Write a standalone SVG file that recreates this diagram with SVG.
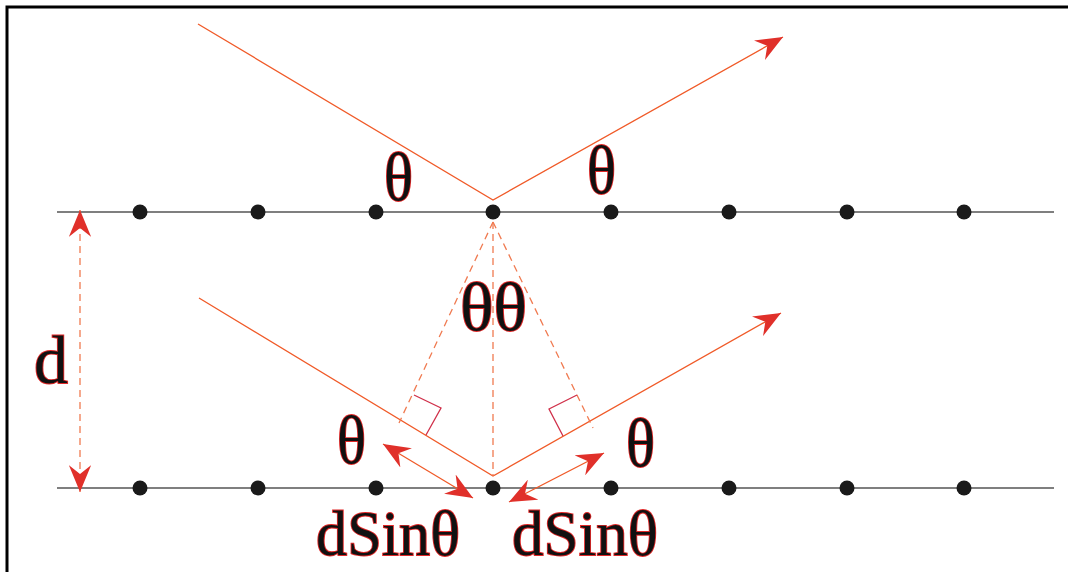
<svg xmlns="http://www.w3.org/2000/svg" width="1068" height="572" viewBox="0 0 1068 572">
<style>
.frame{stroke:#000;stroke-width:3;fill:none}
.plane{stroke:#555;stroke-width:1.5;fill:none}
.atom{fill:#1a1a1a}
.ray{stroke:#f05a28;stroke-width:1.3;fill:none}
.dash{stroke:#f07a50;stroke-width:1.3;fill:none;stroke-dasharray:7 5}
.sq{stroke:#d0304a;stroke-width:1.3;fill:none}
.lbl{font-family:"Liberation Serif","DejaVu Serif",serif;fill:#111;stroke:#e02828;stroke-width:1.8;paint-order:stroke}
</style>
<defs>
<marker id="ah" viewBox="0 0 12 10" refX="12" refY="5" markerWidth="27" markerHeight="22.5" markerUnits="userSpaceOnUse" orient="auto-start-reverse">
<path d="M0,0 L12,5 L0,10 L4,5 z" fill="#e0302a"/>
</marker>
</defs>
<g id="frame">
<path class="frame" d="M7,572 L7,7 L1068,7"/>
</g>
<g id="planes">
<line class="plane" x1="57" y1="212" x2="1054" y2="212"/>
<line class="plane" x1="57" y1="488" x2="1054" y2="488"/>
</g>
<g id="atoms">
<circle class="atom" cx="140" cy="212" r="7.5"/>
<circle class="atom" cx="258" cy="212" r="7.5"/>
<circle class="atom" cx="376" cy="212" r="7.5"/>
<circle class="atom" cx="493" cy="212" r="7.5"/>
<circle class="atom" cx="611" cy="212" r="7.5"/>
<circle class="atom" cx="729" cy="212" r="7.5"/>
<circle class="atom" cx="847" cy="212" r="7.5"/>
<circle class="atom" cx="964" cy="212" r="7.5"/>
<circle class="atom" cx="140" cy="488" r="7.5"/>
<circle class="atom" cx="258" cy="488" r="7.5"/>
<circle class="atom" cx="376" cy="488" r="7.5"/>
<circle class="atom" cx="493" cy="488" r="7.5"/>
<circle class="atom" cx="611" cy="488" r="7.5"/>
<circle class="atom" cx="729" cy="488" r="7.5"/>
<circle class="atom" cx="847" cy="488" r="7.5"/>
<circle class="atom" cx="964" cy="488" r="7.5"/>
</g>
<g id="connectors">
<polyline class="ray" points="198,24 493,200 783,37" marker-end="url(#ah)"/>
<polyline class="ray" points="199,298 493,476 781,313" marker-end="url(#ah)"/>
<line class="dash" x1="493" y1="222" x2="399" y2="423"/>
<line class="dash" x1="493" y1="222" x2="493" y2="476"/>
<line class="dash" x1="493" y1="222" x2="593" y2="428"/>
<polyline class="sq" points="414,395 441,408 426,435"/>
<polyline class="sq" points="563,436 549,409 577,395"/>
<line class="ray" x1="383" y1="444" x2="473" y2="498" marker-start="url(#ah)" marker-end="url(#ah)"/>
<line class="ray" x1="509" y1="502" x2="604" y2="453" marker-start="url(#ah)" marker-end="url(#ah)"/>
<line class="dash" x1="80" y1="210" x2="80" y2="492" marker-start="url(#ah)" marker-end="url(#ah)"/>
</g>
<g id="labels">
<text class="lbl" x="384" y="200" font-size="68" textLength="29" lengthAdjust="spacingAndGlyphs">θ</text>
<text class="lbl" x="587" y="193" font-size="68" textLength="29" lengthAdjust="spacingAndGlyphs">θ</text>
<text class="lbl" x="460" y="330" font-size="68" textLength="67" lengthAdjust="spacingAndGlyphs">θθ</text>
<text class="lbl" x="337" y="463" font-size="68" textLength="29" lengthAdjust="spacingAndGlyphs">θ</text>
<text class="lbl" x="626" y="466" font-size="68" textLength="29" lengthAdjust="spacingAndGlyphs">θ</text>
<text class="lbl" x="34" y="383" font-size="68" textLength="34" lengthAdjust="spacingAndGlyphs">d</text>
<text class="lbl" x="316" y="555" font-size="64" textLength="144" lengthAdjust="spacingAndGlyphs">dSinθ</text>
<text class="lbl" x="512" y="555" font-size="64" textLength="146" lengthAdjust="spacingAndGlyphs">dSinθ</text>
</g>
</svg>
